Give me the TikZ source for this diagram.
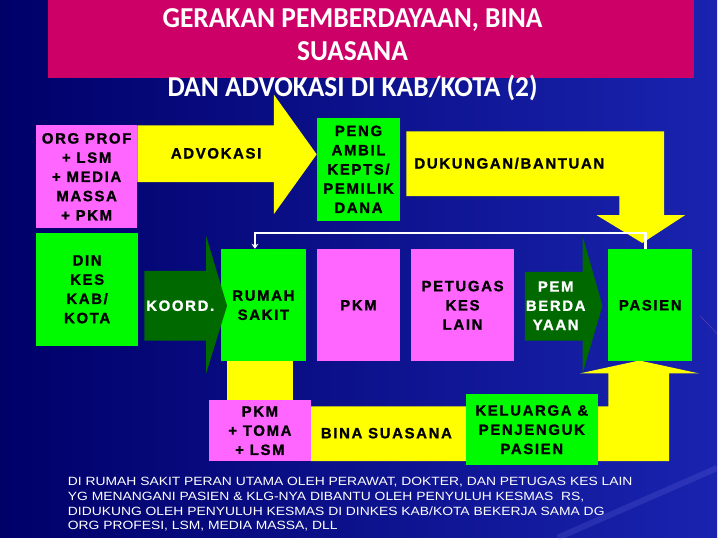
\documentclass[tikz,border=0pt]{standalone}
\usepackage{fontspec}
\setmainfont{Liberation Sans}
\newfontfamily\boxfont[LetterSpace=11, FakeBold=1.2]{Liberation Sans Bold}
\newfontfamily\titlefont[FakeStretch=0.95]{Carlito Bold}
\newfontfamily\notefont[FakeStretch=1.16]{Liberation Sans}
\usetikzlibrary{arrows.meta}
\definecolor{bgdark}{RGB}{0,0,105}
\definecolor{bglight}{RGB}{25,35,175}
\definecolor{titlemagenta}{RGB}{204,0,102}
\definecolor{boxpink}{RGB}{255,102,255}
\definecolor{boxgreen}{RGB}{0,250,0}
\definecolor{arrowyellow}{RGB}{255,255,0}
\definecolor{darkarrow}{RGB}{0,105,0}
\tikzstyle{box} = [inner sep=0pt, align=center, font=\boxfont\fontsize{15}{19.3}\selectfont]
\tikzstyle{pinkbox} = [box, fill=boxpink]
\tikzstyle{greenbox} = [box, fill=boxgreen]
\tikzstyle{titletext} = [white, inner sep=0pt, font=\titlefont\fontsize{29}{32}\selectfont]
\tikzstyle{link} = [white, line width=2.5pt]

\begin{document}
\begin{tikzpicture}[x=1pt, y=-1pt]
        % background
        \shade[left color=bgdark, right color=bglight] (0,0) rectangle (720,540);
        \draw[violet!60!white, opacity=0.5] (703,317) -- (720,335);
        \draw[blue!40!white, opacity=0.15, line width=6pt] (560,540) -- (720,470);
        \useasboundingbox (0,0) rectangle (720,540);
        \fill[titlemagenta] (48,0) rectangle (697,78);

        % yellow arrows
        \fill[arrowyellow] (138,126) -- (275,126) -- (275,95) -- (318,155) -- (275,215) -- (275,183) -- (138,183) -- cycle;
        \fill[arrowyellow] (408,132) -- (667,132) -- (667,216) -- (688,216) -- (645,244) -- (599,216) -- (622,216) -- (622,197) -- (408,197) -- cycle;
        \fill[arrowyellow] (228,362) rectangle (294,403);
        \fill[arrowyellow] (312,408) -- (611,408) -- (611,375) -- (582,375) -- (642,362) -- (702,375) -- (672,375) -- (672,463) -- (312,463) -- cycle;
        \node[box, anchor=center] (advo) at (217,154) {ADVOKASI};
        \node[box, anchor=west] (duk) at (416,164) {DUKUNGAN/BANTUAN};
        \node[box, anchor=center] (bina) at (388,435) {BINA SUASANA};

        % boxes
        \node[pinkbox, minimum width=102pt, minimum height=103pt] (org) at (87,177.5) {ORG PROF\\+ LSM\\+ MEDIA\\MASSA\\+ PKM};
        \node[greenbox, minimum width=84pt, minimum height=104pt] (peng) at (360,170) {PENG\\AMBIL\\KEPTS/\\PEMILIK\\DANA};
        \node[greenbox, minimum width=103pt, minimum height=113pt] (din) at (87.5,290.5) {DIN\\KES\\KAB/\\KOTA};
        \node[greenbox, minimum width=85pt, minimum height=113pt] (rs) at (264.5,306.5) {RUMAH\\SAKIT};
        \node[pinkbox, minimum width=84pt, minimum height=113pt] (pkm) at (360,306.5) {PKM};
        \node[pinkbox, minimum width=103pt, minimum height=113pt] (ptg) at (464.5,306.5) {PETUGAS\\KES\\LAIN};
        \node[greenbox, minimum width=84pt, minimum height=113pt] (pas) at (653,306.5) {PASIEN};
        \node[pinkbox, minimum width=102pt, minimum height=61pt] (pkmt) at (261,432.5) {PKM\\+ TOMA\\+ LSM};
        \node[greenbox, minimum width=132pt, minimum height=71pt] (klg) at (534,431.5) {KELUARGA \&\\PENJENGUK\\PASIEN};

        % dark green arrows
        \fill[darkarrow] (145,272) -- (207,272) -- (207,237) -- (228,307) -- (207,375) -- (207,342) -- (145,342) -- cycle;
        \fill[darkarrow] (527,273) -- (585,273) -- (585,237) -- (605,307) -- (585,375) -- (585,342) -- (527,342) -- cycle;
        \node[box, white] (koord) at (181,307) {KOORD.};
        \node[box, white] (pemb) at (558,307) {PEM\\BERDA\\YAAN};

        % white connector
        \draw[link, -{Stealth[length=5pt, width=7pt]}] ([xshift=-5pt]pas.north) -- ++(0,-16) -| ([xshift=-8.5pt]rs.north);

        % title
        \node[titletext] (t1) at (354,20) {GERAKAN PEMBERDAYAAN, BINA};
        \node[titletext] (t2) at (354,51) {SUASANA};
        \node[titletext] (t3) at (354,88) {DAN ADVOKASI DI KAB/KOTA (2)};

        % note
        \node[white, anchor=north west, align=left, inner sep=0pt, font=\notefont\fontsize{12}{14.8}\selectfont] (note) at (68,479) {DI RUMAH SAKIT PERAN UTAMA OLEH PERAWAT, DOKTER, DAN PETUGAS KES LAIN\\YG MENANGANI PASIEN \& KLG-NYA DIBANTU OLEH PENYULUH KESMAS\ \ RS,\\DIDUKUNG OLEH PENYULUH KESMAS DI DINKES KAB/KOTA BEKERJA SAMA DG\\ORG PROFESI, LSM, MEDIA MASSA, DLL};
        \end{tikzpicture}
\end{document}
